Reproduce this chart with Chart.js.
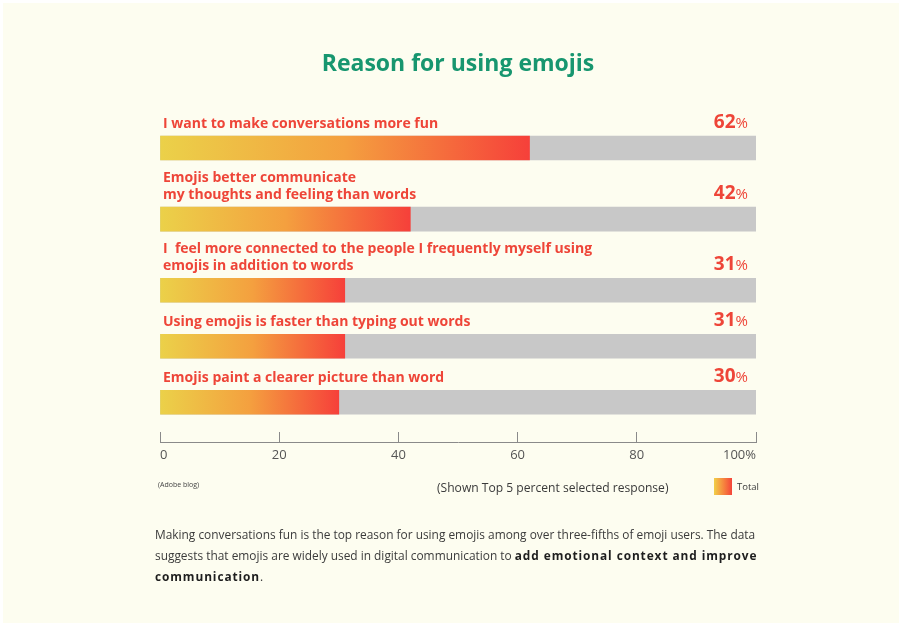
<!DOCTYPE html>
<html>
<head>
<meta charset="utf-8">
<script src="https://cdn.jsdelivr.net/npm/chart.js@4/dist/chart.umd.min.js"></script>
<style>
  html, body { margin: 0; padding: 0; background: #ffffff; }
  body { width: 899px; height: 627px; position: relative; overflow: hidden; font-family: "Open Sans", sans-serif; }
  .panel { position: absolute; left: 3px; top: 3px; width: 896px; height: 620px; background: #fdfdf0; }
  #chart { position: absolute; left: 0; top: 0; }
  .title { position: absolute; left: 160px; width: 596px; top: 46px; text-align: center; font-size: 23px; font-weight: 700; color: #17966f; line-height: 32px; }
  .source { position: absolute; left: 158px; top: 480px; font-size: 7px; color: #444; }
  .note { position: absolute; left: 437px; top: 479px; font-size: 12.1px; color: #3a3a3a; white-space: nowrap; }
  .swatch { position: absolute; left: 714px; top: 478px; width: 18px; height: 17px; background: linear-gradient(90deg, #f1cf48, #f6833e 55%, #f4443a); }
  .total { position: absolute; left: 737px; top: 480px; font-size: 9.5px; color: #3a3a3a; }
  .summary { position: absolute; left: 155px; top: 524px; font-size: 11.9px; line-height: 21px; color: #3b3b3b; white-space: nowrap; }
  .summary b { color: #1e1e1e; font-weight: 700; letter-spacing: 0.9px; }
</style>
</head>
<body>
<div class="panel"></div>
<canvas id="chart" width="899" height="627"></canvas>
<div class="title">Reason for using emojis</div>
<div class="source">(Adobe blog)</div>
<div class="note">(Shown Top 5 percent selected response)</div>
<div class="swatch"></div>
<div class="total">Total</div>
<div class="summary">
  Making conversations fun is the top reason for using emojis among over three-fifths of emoji users. The data<br>
  suggests that emojis are widely used in digital communication to <b>add emotional context and improve</b><br>
  <b>communication</b>.
</div>
<script>
// each reason is split into the lines printed above its bar
const reasons = [
  ['I want to make conversations more fun'],
  ['Emojis better communicate', 'my thoughts and feeling than words'],
  ['I  feel more connected to the people I frequently myself using', 'emojis in addition to words'],
  ['Using emojis is faster than typing out words'],
  ['Emojis paint a clearer picture than word']
]
const shares = [62, 42, 31, 31, 30]
const tickLabels = ['0', '20', '40', '60', '80', '100%']

// rows with two-line labels need a bit more room above the bar
const rowPos = []
reasons.forEach((lines, i) => {
  const prev = i === 0 ? 0 : rowPos[i - 1] + 1 + 0.27 * (lines.length - 1)
  rowPos.push(prev)
})

const red = '#ee4538'
const font = '"Open Sans", sans-serif'

function barGradient(context) {
  const chart = context.chart
  const { chartArea, scales } = chart
  if (!chartArea || !context.raw) return red
  const x0 = scales.x.getPixelForValue(0)
  const x1 = scales.x.getPixelForValue(context.raw.x)
  const g = chart.ctx.createLinearGradient(x0, 0, x1, 0)
  g.addColorStop(0, '#ebd149')
  g.addColorStop(0.5, '#f4a03f')
  g.addColorStop(1, '#f6403a')
  return g
}

const rowLabels = {
  id: 'rowLabels',
  afterDatasetsDraw(chart) {
    const ctx = chart.ctx
    const meta = chart.getDatasetMeta(0)
    const left = chart.chartArea.left + 3
    const right = chart.chartArea.right - 8
    ctx.save()
    ctx.textBaseline = 'alphabetic'
    meta.data.forEach((bar, i) => {
      const top = bar.y - bar.height / 2
      const base = top - 8.5
      const lines = reasons[i]
      ctx.fillStyle = red
      ctx.font = `700 14px ${font}`
      ctx.textAlign = 'left'
      lines.forEach((line, k) => {
        ctx.fillText(line, left, base - (lines.length - 1 - k) * 17)
      })
      // value: big number plus a smaller percent sign
      ctx.textAlign = 'right'
      ctx.font = `500 15px ${font}`
      const pw = ctx.measureText('%').width
      ctx.fillText('%', right, base)
      ctx.font = `700 19px ${font}`
      ctx.fillText(String(shares[i]), right - pw, base)
    })
    ctx.restore()
  }
}

new Chart(document.getElementById('chart'), {
  type: 'bar',
  data: {
    datasets: [
      {
        label: 'Total',
        data: shares.map((v, i) => ({ x: v, y: rowPos[i] })),
        backgroundColor: barGradient,
        barThickness: 24,
        borderWidth: 0
      },
      {
        label: 'Rest',
        data: shares.map((v, i) => ({ x: 100, y: rowPos[i] })),
        backgroundColor: '#c8c8c8',
        barThickness: 24,
        borderWidth: 0
      }
    ]
  },
  options: {
    indexAxis: 'y',
    responsive: false,
    animation: false,
    events: [],
    layout: {
      padding: { left: 160, right: 143, top: 92, bottom: 145 }
    },
    plugins: {
      legend: { display: false },
      tooltip: { enabled: false }
    },
    datasets: {
      bar: { grouped: false }
    },
    scales: {
      y: {
        type: 'linear',
        reverse: true,
        offset: false,
        min: -1,
        max: 5.25,
        display: false
      },
      x: {
        type: 'linear',
        position: 'bottom',
        min: 0,
        max: 100,
        afterFit(scale) { scale.height = 40 },
        border: { color: '#8a8a8a', width: 1 },
        grid: {
          drawOnChartArea: false,
          tickLength: -10,
          color: '#8a8a8a'
        },
        ticks: {
          stepSize: 20,
          padding: 15,
          align: 'inner',
          color: '#555555',
          font: { family: font, size: 13 },
          callback: (value, index) => tickLabels[index]
        }
      }
    }
  },
  plugins: [rowLabels]
})
</script>
</body>
</html>
